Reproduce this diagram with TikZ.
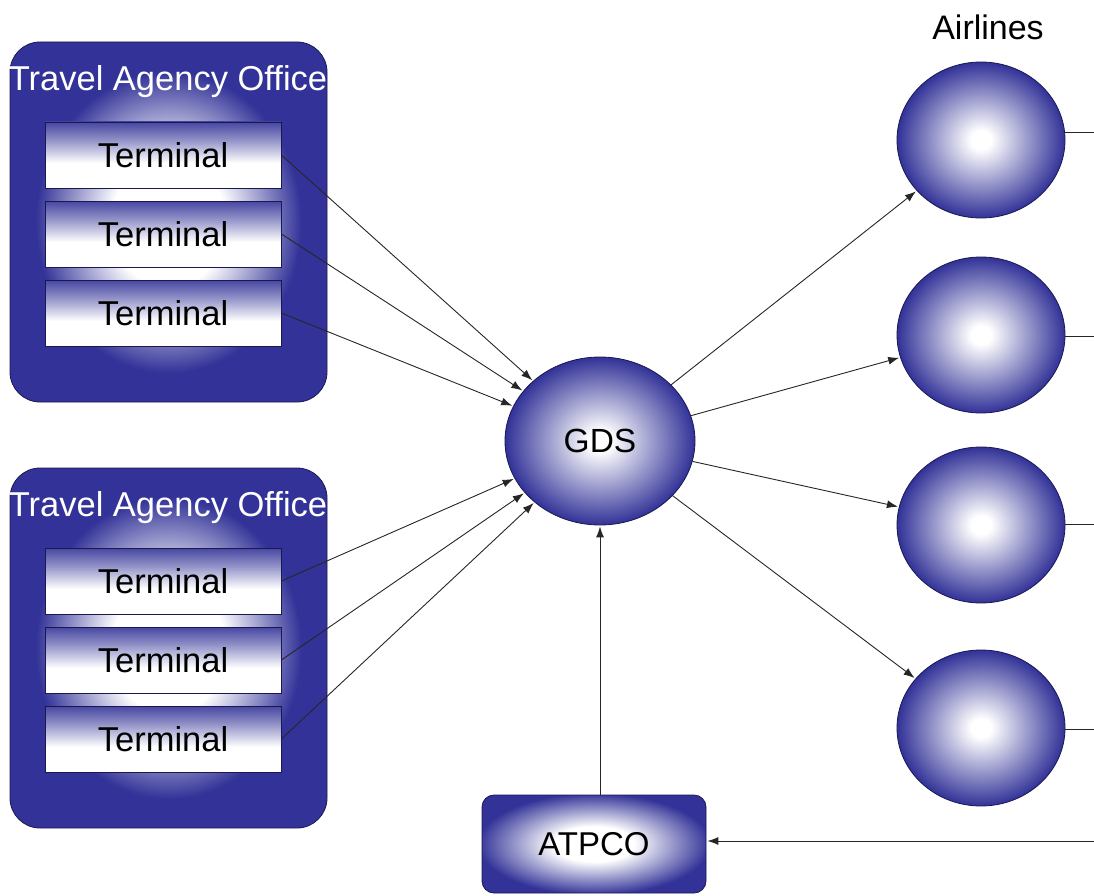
\documentclass[tikz,border=0pt]{standalone}
\usepackage{fontspec}
\setmainfont{Liberation Sans}
\usetikzlibrary{arrows.meta,shapes.geometric}
\definecolor{dblue}{RGB}{50,50,152}
\definecolor{edgec}{RGB}{25,25,80}
\pgfdeclareverticalshading{termshade}{100bp}{color(0bp)=(white); color(25bp)=(white); color(44bp)=(white); color(62bp)=(dblue!55!white); color(75bp)=(dblue!90!white); color(100bp)=(dblue!90!white)}
\pgfdeclareradialshading{ballshade}{\pgfpoint{0bp}{0bp}}{color(0bp)=(white); color(3bp)=(white); color(25bp)=(dblue); color(50bp)=(dblue)}
\pgfdeclareradialshading{officeshade}{\pgfpoint{0bp}{0bp}}{color(0bp)=(white); color(9bp)=(white); color(21bp)=(dblue); color(50bp)=(dblue)}
\pgfdeclareradialshading{atpcoshade}{\pgfpoint{0bp}{0bp}}{color(0bp)=(white); color(9bp)=(white); color(26bp)=(dblue); color(50bp)=(dblue)}
\tikzset{
  office/.style={draw=edgec, line width=0.8pt, rounded corners=30pt, shading=officeshade, minimum width=317pt, minimum height=360pt, inner sep=0pt},
  officelabel/.style={text=white, font=\fontsize{34.5}{40}\selectfont, inner sep=0pt},
  terminal/.style={draw=edgec, line width=0.8pt, shading=termshade, minimum width=236pt, minimum height=66pt, inner sep=0pt, font=\fontsize{34.5}{40}\selectfont},
  airline/.style={draw=edgec, line width=0.8pt, shape=ellipse, shading=ballshade, minimum width=168pt, minimum height=156pt, inner sep=0pt},
  conn/.style={line width=0.9pt, draw=black!85, -{Latex[length=11pt,width=8pt]}, shorten >=1pt},
  plain/.style={line width=0.9pt, draw=black!85},
}
\begin{document}
\begin{tikzpicture}[x=1pt,y=-1pt]
\useasboundingbox (0,0) rectangle (1094,896);
% offices
\node[office] (off1) at (168.5,222) {};
\node[officelabel] (lab1) at (168,82) {Travel Agency Office};
\node[terminal] (t1) at (163,155) {Terminal};
\node[terminal] (t2) at (163,234) {Terminal};
\node[terminal] (t3) at (163,313) {Terminal};
\node[office] (off2) at (168.5,648) {};
\node[officelabel] (lab2) at (168,508) {Travel Agency Office};
\node[terminal] (t4) at (163,581) {Terminal};
\node[terminal] (t5) at (163,660) {Terminal};
\node[terminal] (t6) at (163,739) {Terminal};
% GDS
\node[airline, minimum width=190pt, minimum height=168pt, font=\fontsize{33.5}{38}\selectfont] (gds) at (600,441) {GDS};
% airlines
\node[font=\fontsize{34}{40}\selectfont, inner sep=0pt] (airtitle) at (988,27) {Airlines};
\node[airline] (a1) at (981,140) {};
\node[airline] (a2) at (981,335) {};
\node[airline] (a3) at (981,525) {};
\node[airline] (a4) at (981,728) {};
\coordinate (e1) at (1094,132);
\coordinate (e2) at (1094,336);
\coordinate (e3) at (1094,524);
\coordinate (e4) at (1094,729);
\coordinate (e5) at (1094,841);
\draw[plain] (a1.east |- e1) -- (e1);
\draw[plain] (a2.east |- e2) -- (e2);
\draw[plain] (a3.east |- e3) -- (e3);
\draw[plain] (a4.east |- e4) -- (e4);
% ATPCO
\node[draw=edgec, line width=0.8pt, rounded corners=12pt, shading=atpcoshade, minimum width=224pt, minimum height=98pt, inner sep=0pt, font=\fontsize{33}{38}\selectfont] (atpco) at (594,844) {ATPCO};
% connectors
\draw[conn] (t1.east) -- (gds);
\draw[conn] (t2.east) -- (gds);
\draw[conn] (t3.east) -- (gds);
\draw[conn] (t4.east) -- (gds);
\draw[conn] (t5.east) -- (gds);
\draw[conn] (t6.east) -- (gds);
\draw[conn] (gds) -- (a1);
\draw[conn] (gds) -- (a2);
\draw[conn] (gds) -- (a3);
\draw[conn] (gds) -- (a4);
\draw[conn] (atpco.north -| gds.south) -- (gds.south);
\draw[conn] (e5) -- (atpco.east |- e5);
\end{tikzpicture}
\end{document}
